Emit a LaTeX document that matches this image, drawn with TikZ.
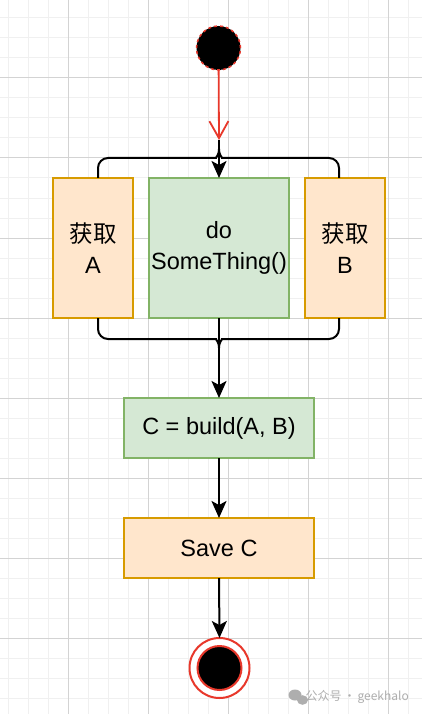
\documentclass[tikz,border=0pt]{standalone}
\usepackage{fontspec}
\setmainfont{Liberation Sans}
\newfontfamily\cjk{Noto Sans CJK SC}
\usetikzlibrary{arrows.meta}
\definecolor{orfill}{HTML}{FFE6CC}
\definecolor{ordraw}{HTML}{D79B00}
\definecolor{grfill}{HTML}{D5E8D4}
\definecolor{grdraw}{HTML}{82B366}
\definecolor{myred}{HTML}{E8382B}
\definecolor{gridminor}{HTML}{F0F0F0}
\definecolor{gridmajor}{HTML}{D3D3D3}
\definecolor{wm}{HTML}{AEAEAE}
\tikzset{
  box/.style={rectangle, draw, line width=1.6pt, inner sep=0pt, outer sep=0pt, align=center,
    font=\fontsize{23.5}{31}\selectfont},
  orbox/.style={box, fill=orfill, draw=ordraw},
  grbox/.style={box, fill=grfill, draw=grdraw},
  conn/.style={line width=2pt, black},
  arr/.style={conn, -{Stealth[length=17pt, width=15pt, inset=4pt]}},
}
\begin{document}
\begin{tikzpicture}[x=1pt, y=-1pt]
\useasboundingbox (0,0) rectangle (422,714);
\fill[white] (0,0) rectangle (422,714);
% grid
\foreach \x in {8,28,...,420} \draw[gridminor, line width=1pt] (\x,0) -- (\x,714);
\foreach \y in {18,38,...,712} \draw[gridminor, line width=1pt] (0,\y) -- (422,\y);
\foreach \x in {68,148,...,420} \draw[gridmajor, line width=1pt] (\x,0) -- (\x,714);
\foreach \y in {78,158,...,712} \draw[gridmajor, line width=1pt] (0,\y) -- (422,\y);

% nodes
\node[circle, minimum size=44pt, inner sep=0pt, outer sep=0pt, fill=black, draw=myred,
  line width=1.5pt, dash pattern=on 3pt off 3pt] (start) at (218.5,48) {};
\node[orbox, minimum width=80pt, minimum height=140pt] (A) at (93,248) {{\cjk 获取}\\A};
\node[grbox, minimum width=140pt, minimum height=140pt] (D) at (219,248) {do\\SomeThing()};
\node[orbox, minimum width=80pt, minimum height=140pt] (B) at (345,248) {{\cjk 获取}\\B};
\node[grbox, minimum width=190pt, minimum height=60pt] (C) at (219,428) {C = build(A, B)};
\node[orbox, minimum width=190pt, minimum height=60pt] (S) at (219,548) {Save C};
\node[circle, minimum size=60pt, inner sep=0pt, outer sep=0pt, fill=white, draw=myred,
  line width=2pt] (end) at (219.5,668) {};
\node[circle, minimum size=44pt, inner sep=0pt, fill=black, draw=myred, line width=2pt] (endin) at (end.center) {};

% fork / join coordinates
\coordinate (f1) at (219,140);
\coordinate (f1c) at (219,149);
\coordinate (tl) at (206,158);
\coordinate (tr) at (232,158);
\coordinate (bl) at (206,339);
\coordinate (br) at (232,339);
\coordinate (f2c) at (219,348);

% connectors
\draw[myred, line width=1.8pt, -{Straight Barb[length=17pt, width=19pt, line width=1.8pt]}] (start) -- (f1);
\draw[conn] (f1) -- (f1c);
\draw[conn, rounded corners=10pt] ([xshift=5pt]A.north) |- (tl) .. controls (215,158) and (219,156) .. (f1c);
\draw[conn, rounded corners=10pt] ([xshift=-6pt]B.north) |- (tr) .. controls (223,158) and (219,156) .. (f1c);
\draw[arr] (f1c) -- (D.north);
\draw[conn, rounded corners=10pt] ([xshift=5pt]A.south) |- (bl) .. controls (215,339) and (219,341) .. (f2c);
\draw[conn, rounded corners=10pt] ([xshift=-6pt]B.south) |- (br) .. controls (223,339) and (219,341) .. (f2c);
\draw[arr] (D.south) -- (C.north);
\draw[arr] (C.south) -- (S.north);
\draw[arr] (S.south) -- (end.north);

% watermark
\fill[wm] (295,695) ellipse (6.5pt and 5.5pt);
\fill[wm] (302.5,700) ellipse (5.5pt and 4.8pt);
\node[anchor=east, text=wm, inner sep=0pt, font=\cjk\fontsize{12}{14}\selectfont] (wmt) at (409,697) {公众号\,·\,geekhalo};
\end{tikzpicture}
\end{document}
